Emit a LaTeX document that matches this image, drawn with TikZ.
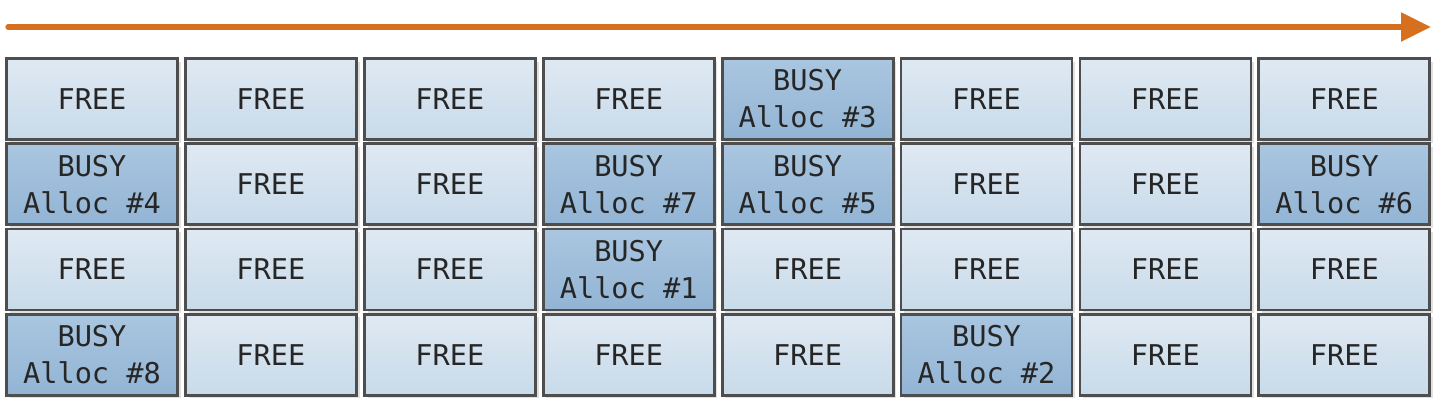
\documentclass[tikz,border=0pt]{standalone}
\usepackage{fontspec}
\setmonofont{DejaVu Sans Mono}
\usetikzlibrary{shadows,arrows.meta}
\definecolor{freetop}{HTML}{DFE9F3}
\definecolor{freebot}{HTML}{C8DAE9}
\definecolor{busytop}{HTML}{AAC6E0}
\definecolor{busybot}{HTML}{92B4D4}
\definecolor{cellborder}{HTML}{4E4E4E}
\definecolor{arroworange}{HTML}{D6701F}
\tikzset{
  cell/.style={draw=cellborder, line width=1.4pt, minimum width=85.5pt, minimum height=40.5pt,
    inner sep=0pt, font=\ttfamily\fontsize{14.3}{18.5}\selectfont, text=black!85, align=center,
    drop shadow={shadow xshift=1.6pt, shadow yshift=-1.6pt, fill=black!12, opacity=1}},
  freecell/.style={cell, top color=freetop, bottom color=freebot},
  busycell/.style={cell, top color=busytop, bottom color=busybot},
  timeline/.style={draw=arroworange, line width=2.6pt, line cap=round,
    -{Triangle[length=15pt,width=14pt]}}
}
% busy cells: row-col -> alloc number
\expandafter\def\csname busy@0@4\endcsname{3}
\expandafter\def\csname busy@1@0\endcsname{4}
\expandafter\def\csname busy@1@3\endcsname{7}
\expandafter\def\csname busy@1@4\endcsname{5}
\expandafter\def\csname busy@1@7\endcsname{6}
\expandafter\def\csname busy@2@3\endcsname{1}
\expandafter\def\csname busy@3@0\endcsname{8}
\expandafter\def\csname busy@3@5\endcsname{2}
\begin{document}
\begin{tikzpicture}[x=0.5pt,y=-0.5pt]
\useasboundingbox (0,0) rectangle (1440,404);
\coordinate (as) at (8,27);
\coordinate (ae) at (1431,27);
\draw[timeline] (as) -- (ae);
\foreach \r in {0,...,3}{
  \foreach \c in {0,...,7}{
    \pgfmathsetmacro{\cx}{92+178.9*\c}
    \pgfmathsetmacro{\cy}{99+85.2*\r}
    \ifcsname busy@\r @\c\endcsname
      \edef\n{\csname busy@\r @\c\endcsname}
      \node[busycell] (c\r\c) at (\cx,\cy) {BUSY\\Alloc \#\n};
    \else
      \node[freecell] (c\r\c) at (\cx,\cy) {FREE};
    \fi
  }
}
\end{tikzpicture}
\end{document}
